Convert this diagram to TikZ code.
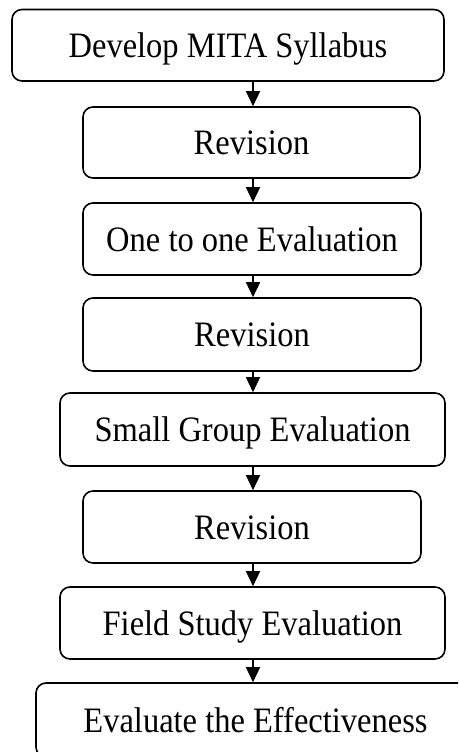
\documentclass[tikz,border=0pt]{standalone}
\usepackage{fontspec}
\setmainfont{Liberation Serif}
\usetikzlibrary{arrows.meta}
\newcommand\vstretch[1]{\scalebox{1}[1.1]{#1}}
\begin{document}
\begin{tikzpicture}[x=1pt,y=-1pt,
  stepbox/.style={draw, line width=1.6pt, rounded corners=10pt, inner sep=0pt,
    text height=24pt, text depth=0pt, font=\fontsize{32.5}{38}\selectfont},
  arr/.style={line width=1.5pt, -{Triangle[width=14pt,length=15pt]}}]
\useasboundingbox (0,0) rectangle (458,752);
\clip (0,0) rectangle (458,752);
\node[stepbox, minimum width=432pt, minimum height=71.5pt] (b1) at (228,45.25) {\vstretch{Develop MITA Syllabus}};
\node[stepbox, minimum width=337pt, minimum height=71pt] (b2) at (251.5,142.5) {\vstretch{Revision}};
\node[stepbox, minimum width=338pt, minimum height=72pt] (b3) at (252,239) {\vstretch{One to one Evaluation}};
\node[stepbox, minimum width=338pt, minimum height=73pt] (b4) at (252,334.5) {\vstretch{Revision}};
\node[stepbox, minimum width=385pt, minimum height=73pt] (b5) at (252.5,429.5) {\vstretch{Small Group Evaluation}};
\node[stepbox, minimum width=338pt, minimum height=72pt] (b6) at (252,527) {\vstretch{Revision}};
\node[stepbox, minimum width=385pt, minimum height=72pt] (b7) at (252.5,623) {\vstretch{Field Study Evaluation}};
\node[stepbox, minimum width=439pt, minimum height=74pt] (b8) at (255.5,720) {\vstretch{Evaluate the Effectiveness}};
\coordinate (ax) at (253,0);
\draw[arr] (b1.south -| ax) -- (b2.north -| ax);
\draw[arr] (b2.south -| ax) -- (b3.north -| ax);
\draw[arr] (b3.south -| ax) -- (b4.north -| ax);
\draw[arr] (b4.south -| ax) -- (b5.north -| ax);
\draw[arr] (b5.south -| ax) -- (b6.north -| ax);
\draw[arr] (b6.south -| ax) -- (b7.north -| ax);
\draw[arr] (b7.south -| ax) -- (b8.north -| ax);
\end{tikzpicture}
\end{document}
